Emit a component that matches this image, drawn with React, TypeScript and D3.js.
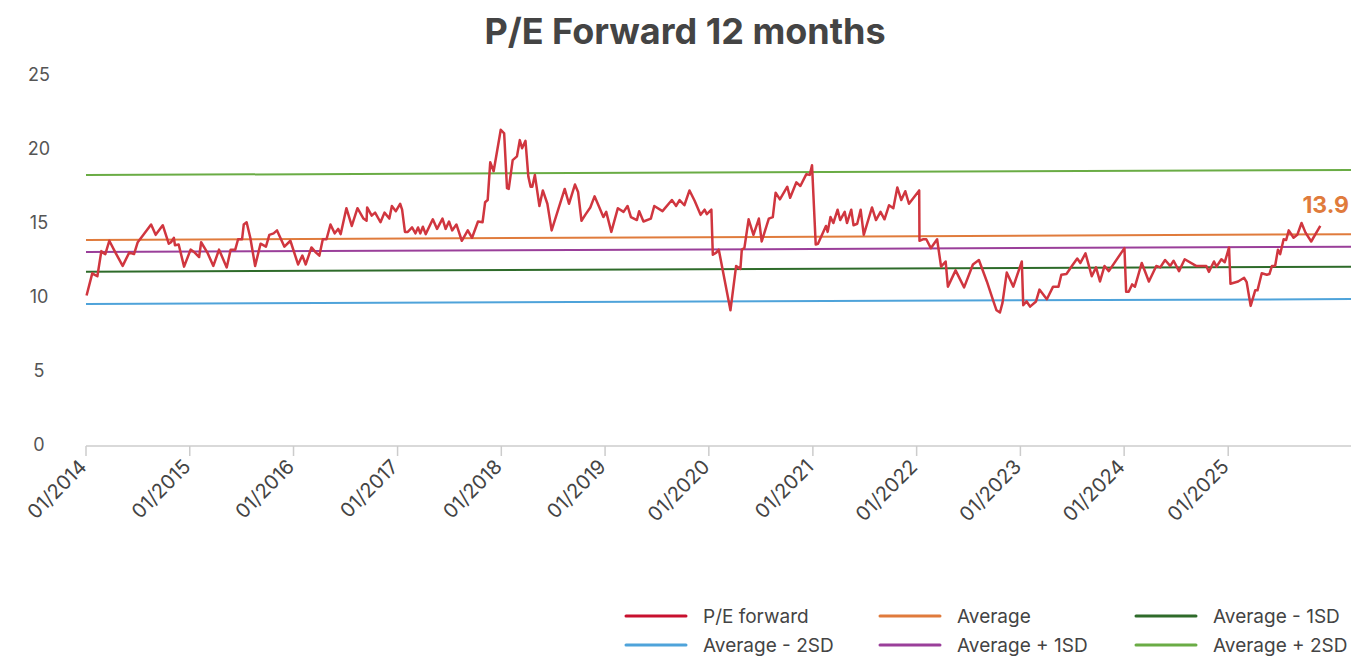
import React from "react";
import * as d3 from "d3";

const WIDTH = 1351;
const HEIGHT = 657;

const chartTitle = "P/E Forward 12 months";

// Weekly-ish forward P/E readings
const peDates: string[] = [
  "2014-01-03","2014-01-23","2014-02-01","2014-02-10","2014-02-24","2014-03-01","2014-03-10","2014-03-24","2014-04-16","2014-05-10",
  "2014-06-02","2014-06-19","2014-07-02","2014-07-22","2014-08-18","2014-09-03","2014-09-28","2014-10-19","2014-10-27","2014-11-06",
  "2014-11-10","2014-11-23","2014-12-12","2015-01-04","2015-01-15","2015-02-03","2015-02-10","2015-03-04","2015-03-25","2015-04-14",
  "2015-05-11","2015-05-25","2015-06-10","2015-06-20","2015-07-04","2015-07-10","2015-07-20","2015-08-02","2015-08-19","2015-09-07",
  "2015-09-26","2015-10-08","2015-10-23","2015-11-04","2015-11-30","2015-12-21","2016-01-17","2016-02-01","2016-02-13","2016-03-04",
  "2016-03-20","2016-04-01","2016-04-13","2016-04-26","2016-05-10","2016-05-25","2016-06-06","2016-06-15","2016-07-05","2016-07-24",
  "2016-08-13","2016-09-03","2016-09-14","2016-09-16","2016-10-02","2016-10-14","2016-11-02","2016-11-16","2016-12-03","2016-12-12",
  "2016-12-26","2017-01-10","2017-01-17","2017-01-27","2017-02-06","2017-02-21","2017-03-05","2017-03-14","2017-03-22","2017-03-31",
  "2017-04-10","2017-05-05","2017-05-20","2017-06-08","2017-06-19","2017-07-01","2017-07-12","2017-07-27","2017-08-15","2017-09-05",
  "2017-09-20","2017-10-11","2017-10-27","2017-11-05","2017-11-14","2017-11-23","2017-12-05","2017-12-30","2018-01-11","2018-01-21",
  "2018-01-27","2018-02-10","2018-02-25","2018-03-07","2018-03-15","2018-03-27","2018-04-06","2018-04-14","2018-04-20","2018-04-29",
  "2018-05-15","2018-05-27","2018-06-12","2018-06-27","2018-07-20","2018-08-12","2018-08-27","2018-09-17","2018-09-28","2018-10-10",
  "2018-10-25","2018-11-10","2018-11-25","2018-12-12","2018-12-26","2019-01-05","2019-01-23","2019-02-15","2019-03-07","2019-03-21",
  "2019-04-02","2019-04-23","2019-05-01","2019-05-16","2019-06-11","2019-06-23","2019-07-22","2019-08-24","2019-09-08","2019-09-20",
  "2019-10-07","2019-10-25","2019-11-12","2019-12-03","2019-12-17","2019-12-25","2020-01-10","2020-01-15","2020-01-27","2020-02-05",
  "2020-03-17","2020-04-06","2020-04-21","2020-04-26","2020-05-05","2020-05-20","2020-06-06","2020-06-25","2020-07-05","2020-07-30",
  "2020-08-13","2020-08-23","2020-09-07","2020-10-03","2020-10-13","2020-11-04","2020-11-18","2020-12-09","2020-12-21","2020-12-29",
  "2021-01-11","2021-01-19","2021-02-16","2021-02-22","2021-03-04","2021-03-14","2021-03-29","2021-04-07","2021-04-23","2021-05-01",
  "2021-05-16","2021-05-24","2021-06-06","2021-06-18","2021-06-29","2021-07-28","2021-08-11","2021-08-27","2021-09-10","2021-09-26",
  "2021-10-11","2021-10-25","2021-11-08","2021-11-22","2021-12-05","2022-01-10","2022-01-11","2022-01-23","2022-02-04","2022-02-20",
  "2022-03-14","2022-03-28","2022-04-13","2022-04-21","2022-05-18","2022-06-17","2022-07-18","2022-08-08","2022-09-05","2022-09-30",
  "2022-10-09","2022-10-21","2022-10-30","2022-11-14","2022-12-07","2023-01-06","2023-01-11","2023-01-23","2023-02-04","2023-02-25",
  "2023-03-09","2023-04-04","2023-04-26","2023-05-15","2023-05-25","2023-06-12","2023-07-03","2023-07-20","2023-07-31","2023-08-18",
  "2023-09-09","2023-09-24","2023-10-08","2023-10-24","2023-11-08","2024-01-02","2024-01-08","2024-01-17","2024-01-29","2024-02-08",
  "2024-03-03","2024-03-28","2024-04-23","2024-05-07","2024-05-24","2024-06-11","2024-06-23","2024-07-12","2024-08-01","2024-09-10",
  "2024-10-16","2024-10-25","2024-11-12","2024-11-21","2024-12-08","2024-12-20","2025-01-04","2025-01-09","2025-02-05","2025-02-26",
  "2025-03-07","2025-03-21","2025-04-06","2025-04-14","2025-04-29","2025-05-17","2025-05-26","2025-06-04","2025-06-15","2025-06-25",
  "2025-07-03","2025-07-15","2025-07-24","2025-08-02","2025-08-19","2025-09-01","2025-09-16","2025-09-30","2025-10-20","2025-11-21",
];

const peValues: number[] = [
  10.1,11.6,11.5,11.4,13.1,13.0,12.9,13.8,12.95,12.1,
  13.0,12.9,13.7,14.2,14.9,14.2,14.85,13.6,13.7,14.0,
  13.5,13.55,12.05,13.2,13.06,12.7,13.7,13.0,12.1,13.2,
  12.0,13.2,13.2,13.9,13.9,14.9,15.05,14.0,12.1,13.6,
  13.4,14.2,14.3,14.5,13.4,13.8,12.2,12.8,12.2,13.35,
  13.0,12.8,13.9,13.9,14.9,14.3,14.6,14.25,16.0,14.8,
  16.0,15.3,15.15,16.05,15.5,15.7,15.05,15.7,15.3,16.15,
  15.8,16.3,15.9,14.4,14.4,14.7,14.3,14.7,14.3,14.75,
  14.25,15.25,14.6,15.3,14.6,15.1,14.5,14.9,13.8,14.5,
  14.0,15.1,15.05,16.4,16.55,19.1,18.5,21.3,21.05,17.35,
  17.3,19.25,19.5,20.6,20.05,20.55,18.15,17.45,17.45,18.25,
  16.15,17.2,16.3,14.5,15.9,17.3,16.3,17.6,17.1,15.15,
  15.6,16.05,16.8,16.05,15.4,15.75,14.4,16.0,15.75,16.15,
  15.4,15.2,15.8,15.1,15.3,16.15,15.8,16.55,16.15,16.55,
  16.2,17.2,16.5,15.55,15.9,15.6,15.9,12.85,13.0,13.2,
  9.1,12.1,11.9,13.2,13.3,15.25,14.2,15.3,13.75,15.3,
  15.4,17.05,16.6,17.45,16.7,17.75,17.5,18.3,18.25,18.9,
  13.55,13.6,14.8,14.4,15.4,15.0,15.9,15.2,15.75,15.0,
  15.9,14.85,14.95,15.9,14.2,16.05,15.2,15.75,15.25,16.2,
  16.0,17.4,16.55,17.15,16.3,17.2,13.8,13.9,13.9,13.3,
  13.9,12.05,12.4,10.7,11.8,10.65,12.2,12.5,11.05,9.6,
  9.1,8.95,9.6,11.65,10.7,12.4,9.45,9.7,9.35,9.7,
  10.5,9.85,10.7,10.7,11.5,11.55,12.15,12.6,12.3,12.95,
  11.4,12.0,11.05,12.1,11.75,13.3,10.35,10.35,10.85,10.7,
  12.3,11.05,12.1,12.0,12.5,12.1,12.45,11.75,12.55,12.1,
  12.1,11.7,12.4,12.05,12.55,12.35,13.35,10.9,11.05,11.3,
  11.0,9.4,10.45,10.45,11.6,11.5,11.55,12.1,12.1,13.2,
  12.9,13.9,13.85,14.5,14.0,14.2,15.0,14.35,13.75,14.8,
];

// Reference bands: value at the start and at the end of the time axis
const bandNames: string[] = ["Average + 2SD", "Average", "Average + 1SD", "Average - 1SD", "Average - 2SD"];
const bandStart: number[] = [18.24, 13.85, 13.04, 11.71, 9.53];
const bandEnd: number[] = [18.58, 14.24, 13.4, 12.05, 9.86];

const yTicks: number[] = [0, 5, 10, 15, 20, 25];
const xTickYears: number[] = [2014, 2015, 2016, 2017, 2018, 2019, 2020, 2021, 2022, 2023, 2024, 2025];

const legendLabels: string[] = ["P/E forward", "Average", "Average - 1SD", "Average - 2SD", "Average + 1SD", "Average + 2SD"];

const latestLabel = "13.9";

const colors: Record<string, string> = {
  "P/E forward": "#d0363f",
  "Average": "#e07b3c",
  "Average - 1SD": "#2e6b2a",
  "Average - 2SD": "#4ea3da",
  "Average + 1SD": "#9a3f9a",
  "Average + 2SD": "#6aac45",
};
const legendRed = "#c8102e";

const FONT = "Inter, 'Noto Sans', sans-serif";

export default function App() {
  const parse = d3.timeParse("%Y-%m-%d");
  const series = peDates.map((d, i) => ({ date: parse(d) as Date, value: peValues[i] }));

  const x = d3
    .scaleTime()
    .domain([new Date(2014, 0, 1), new Date(2026, 2, 9)])
    .range([86, 1351]);
  const y = d3.scaleLinear().domain([0, 25]).range([445, 75]);

  const line = d3
    .line<{ date: Date; value: number }>()
    .x((d) => x(d.date))
    .y((d) => y(d.value));

  const [d0, d1] = x.domain();
  const last = series[series.length - 1];

  const legendCols = [626, 880, 1136];
  const legendRows = [616, 645];

  return (
    <svg
      width={WIDTH}
      height={HEIGHT}
      style={{ position: "absolute", left: 0, top: 0, background: "#fff" }}
      fontFamily={FONT}
    >
      <text x={685} y={44} textAnchor="middle" fontSize={36} fontWeight={700} fill="#444">
        {chartTitle}
      </text>

      {/* y labels */}
      {yTicks.map((t) => (
        <text key={t} x={39} y={y(t) + 6} textAnchor="middle" fontSize={18} fill="#555">
          {t}
        </text>
      ))}

      {/* x axis */}
      <line x1={86} x2={1351} y1={446} y2={446} stroke="#ccc" strokeWidth={1.5} />
      {xTickYears.map((yr) => {
        const px = x(new Date(yr, 0, 1));
        return (
          <g key={yr}>
            <line x1={px} x2={px} y1={446} y2={456} stroke="#ccc" strokeWidth={1.5} />
            <text
              transform={`translate(${px + 2},${468}) rotate(-45)`}
              textAnchor="end"
              fontSize={20}
              fill="#444"
            >
              {`01/${yr}`}
            </text>
          </g>
        );
      })}

      {/* reference bands */}
      {bandNames.map((name, i) => (
        <line
          key={name}
          x1={x(d0)}
          x2={x(d1)}
          y1={y(bandStart[i])}
          y2={y(bandEnd[i])}
          stroke={colors[name]}
          strokeWidth={2}
        />
      ))}

      <path d={line(series) ?? ""} fill="none" stroke={colors["P/E forward"]} strokeWidth={2.5} strokeLinejoin="round" />

      <text x={1349} y={y(last.value) - 13} textAnchor="end" fontSize={23} fontWeight={700} fill={colors["Average"]}>
        {latestLabel}
      </text>

      {/* legend */}
      {legendLabels.map((lab, i) => {
        const cx = legendCols[i % 3];
        const cy = legendRows[Math.floor(i / 3)];
        return (
          <g key={lab}>
            <line
              x1={cx}
              x2={cx + 60}
              y1={cy}
              y2={cy}
              stroke={lab === "P/E forward" ? legendRed : colors[lab]}
              strokeWidth={3}
              strokeLinecap="round"
            />
            <text x={cx + 77} y={cy + 7} fontSize={19} fill="#444">
              {lab}
            </text>
          </g>
        );
      })}
    </svg>
  );
}
